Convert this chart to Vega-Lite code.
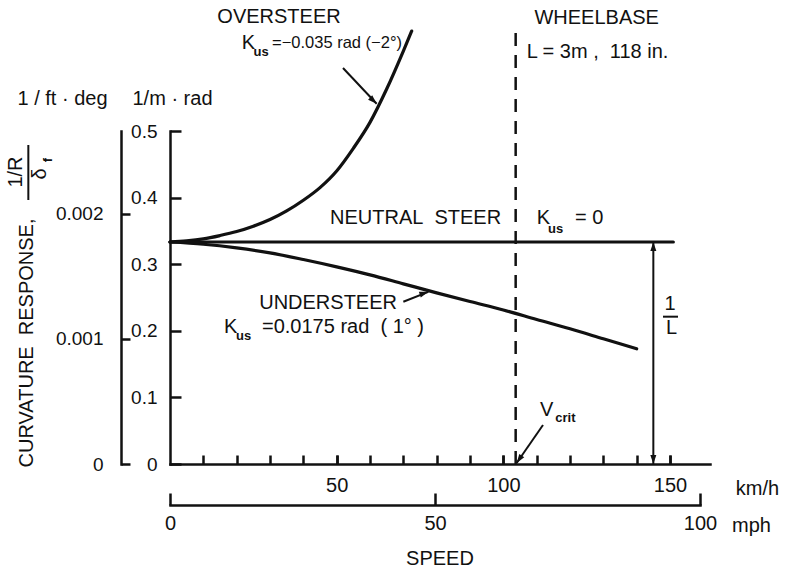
{
  "$schema": "https://vega.github.io/schema/vega-lite/v6.json",
  "width": 540,
  "height": 333,
  "autosize": {"type": "none"},
  "padding": {"left": 170, "top": 131, "right": 78, "bottom": 106},
  "background": "white",
  "title": {"text": "SPEED", "orient": "bottom", "anchor": "middle", "frame": "group", "font": "Liberation Sans", "fontSize": 20, "fontWeight": "normal", "color": "#111", "offset": 14},
  "datasets": {
    "curves": [
      {"series": "oversteer", "speed": 0, "curvature": 0.3333},
      {"series": "oversteer", "speed": 5, "curvature": 0.335},
      {"series": "oversteer", "speed": 10, "curvature": 0.338},
      {"series": "oversteer", "speed": 15, "curvature": 0.343},
      {"series": "oversteer", "speed": 20, "curvature": 0.349},
      {"series": "oversteer", "speed": 25, "curvature": 0.357},
      {"series": "oversteer", "speed": 30, "curvature": 0.367},
      {"series": "oversteer", "speed": 35, "curvature": 0.38},
      {"series": "oversteer", "speed": 40, "curvature": 0.396},
      {"series": "oversteer", "speed": 45, "curvature": 0.415},
      {"series": "oversteer", "speed": 50, "curvature": 0.44},
      {"series": "oversteer", "speed": 55, "curvature": 0.474},
      {"series": "oversteer", "speed": 60, "curvature": 0.513},
      {"series": "oversteer", "speed": 65, "curvature": 0.563},
      {"series": "oversteer", "speed": 70, "curvature": 0.62},
      {"series": "oversteer", "speed": 72.5, "curvature": 0.65},
      {"series": "understeer", "speed": 0, "curvature": 0.3333},
      {"series": "understeer", "speed": 10, "curvature": 0.33},
      {"series": "understeer", "speed": 20, "curvature": 0.3245},
      {"series": "understeer", "speed": 30, "curvature": 0.317},
      {"series": "understeer", "speed": 40, "curvature": 0.307},
      {"series": "understeer", "speed": 50, "curvature": 0.296},
      {"series": "understeer", "speed": 60, "curvature": 0.284},
      {"series": "understeer", "speed": 70, "curvature": 0.2705},
      {"series": "understeer", "speed": 80, "curvature": 0.257},
      {"series": "understeer", "speed": 90, "curvature": 0.244},
      {"series": "understeer", "speed": 100, "curvature": 0.2313},
      {"series": "understeer", "speed": 110, "curvature": 0.217},
      {"series": "understeer", "speed": 120, "curvature": 0.203},
      {"series": "understeer", "speed": 130, "curvature": 0.188},
      {"series": "understeer", "speed": 140, "curvature": 0.173},
      {"series": "neutral", "speed": 0, "curvature": 0.3333},
      {"series": "neutral", "speed": 151, "curvature": 0.3333}
    ],
    "vcrit": [{"speed": 103.7, "from": 0, "to": 0.65}],
    "inverseL": [{"speed": 145, "from": 0, "to": 0.3333}],
    "leaders": [
      {"name": "oversteer", "speed": 51.9, "curvature": 0.5946, "speed2": 62.0, "curvature2": 0.541},
      {"name": "understeer", "speed": 70.0, "curvature": 0.2437, "speed2": 77.5, "curvature2": 0.2585},
      {"name": "vcrit", "speed": 111.9, "curvature": 0.0586, "speed2": 104.0, "curvature2": 0.0015}
    ],
    "heads": [
      {"name": "oversteer", "speed": 62.0, "curvature": 0.541},
      {"name": "understeer", "speed": 77.5, "curvature": 0.2585},
      {"name": "vcrit", "speed": 104.0, "curvature": 0.0015},
      {"name": "Ltop", "speed": 145, "curvature": 0.3333},
      {"name": "Lbottom", "speed": 145, "curvature": 0}
    ],
    "bars": [
      {"speed": -42.5, "curvature": 0.3964, "speed2": -42.5, "curvature2": 0.479},
      {"speed": 147.9, "curvature": 0.2212, "speed2": 152.4, "curvature2": 0.2212}
    ],
    "labelsCenter": [
      {"text": "OVERSTEER", "speed": 32.7, "curvature": 0.6712},
      {"text": "WHEELBASE", "speed": 128.0, "curvature": 0.6692},
      {"text": "1", "speed": 150.0, "curvature": 0.2402},
      {"text": "L", "speed": 150.5, "curvature": 0.2042}
    ],
    "labelsLeft": [
      {"text": "L = 3m ,\u00a0\u00a0118 in.", "speed": 107.0, "curvature": 0.6191},
      {"text": "NEUTRAL\u00a0\u00a0STEER", "speed": 48.0, "curvature": 0.3689},
      {"text": "K", "speed": 110.0, "curvature": 0.3689},
      {"text": "= 0", "speed": 121.5, "curvature": 0.3689},
      {"text": "K", "speed": 16.2, "curvature": 0.2057},
      {"text": "=0.0175 rad\u00a0\u00a0( 1° )", "speed": 27.6, "curvature": 0.2057},
      {"text": "V", "speed": 111.0, "curvature": 0.0811},
      {"text": "K", "speed": 21.5, "curvature": 0.6321}
    ],
    "labelsRight": [
      {"text": "UNDERSTEER", "speed": 68.1, "curvature": 0.2417}
    ],
    "labelsSmall": [
      {"text": "=−0.035 rad (−2°)", "speed": 30.6, "curvature": 0.6321}
    ],
    "subscripts": [
      {"text": "us", "speed": 25.05, "curvature": 0.6186},
      {"text": "us", "speed": 113.4, "curvature": 0.3529},
      {"text": "us", "speed": 19.8, "curvature": 0.1922},
      {"text": "crit", "speed": 115.6, "curvature": 0.0691}
    ],
    "rotated": [
      {"text": "CURVATURE\u00a0\u00a0RESPONSE,", "speed": -42.9, "curvature": 0.1817},
      {"text": "1/R", "speed": -46.2, "curvature": 0.4384},
      {"text": "δ", "speed": -39.0, "curvature": 0.4354}
    ],
    "rotatedSub": [
      {"text": "f", "speed": -36.6, "curvature": 0.4565}
    ],
    "kmhTicks": [
      {"speed": 10}, {"speed": 20}, {"speed": 30}, {"speed": 40}, {"speed": 50},
      {"speed": 60}, {"speed": 70}, {"speed": 80}, {"speed": 90}, {"speed": 100},
      {"speed": 110}, {"speed": 120}, {"speed": 130}, {"speed": 140}, {"speed": 150}
    ],
    "ftdeg": [{"ftdeg": 0}, {"ftdeg": 0.001}, {"ftdeg": 0.002}],
    "mph": [{"mph": 0}, {"mph": 50}, {"mph": 100}]
  },
  "layer": [
    {
      "layer": [
        {
          "data": {"name": "curves"},
          "mark": {"type": "line", "interpolate": "monotone", "color": "#111", "strokeCap": "round"},
          "encoding": {
            "x": {
              "field": "speed", "type": "quantitative",
              "scale": {"domain": [0, 162], "nice": false, "zero": true},
              "axis": {
                "values": [50, 100, 150],
                "format": "d",
                "labelOverlap": false,
                "tickSize": -9,
                "labelPadding": 20,
                "title": "km/h",
                "titleX": 587, "titleY": 24, "titleAlign": "center", "titleBaseline": "middle", "titleAngle": 0
              }
            },
            "y": {
              "field": "curvature", "type": "quantitative",
              "scale": {"domain": [0, 0.5], "nice": false, "zero": true},
              "axis": {
                "values": [0, 0.1, 0.2, 0.3, 0.4, 0.5],
                "format": ".1~f",
                "labelOverlap": false,
                "tickSize": -11,
                "labelPadding": 24,
                "labelFontSize": 19,
                "title": "1/m · rad",
                "titleX": 2, "titleY": -33, "titleAlign": "center", "titleBaseline": "middle", "titleAngle": 0
              }
            },
            "detail": {"field": "series"},
            "strokeWidth": {"field": "series", "type": "nominal", "scale": {"domain": ["oversteer", "understeer", "neutral"], "range": [3.2, 3.2, 2]}, "legend": null}
          }
        },
        {
          "data": {"name": "vcrit"},
          "mark": {"type": "rule", "color": "#111", "strokeWidth": 2.5, "strokeDash": [13, 9]},
          "encoding": {
            "x": {"field": "speed", "type": "quantitative"},
            "y": {"field": "from", "type": "quantitative"},
            "y2": {"field": "to"}
          }
        },
        {
          "data": {"name": "inverseL"},
          "mark": {"type": "rule", "color": "#111", "strokeWidth": 2},
          "encoding": {
            "x": {"field": "speed", "type": "quantitative"},
            "y": {"field": "from", "type": "quantitative"},
            "y2": {"field": "to"}
          }
        },
        {
          "data": {"name": "leaders"},
          "mark": {"type": "rule", "color": "#111", "strokeWidth": 2},
          "encoding": {
            "x": {"field": "speed", "type": "quantitative"},
            "y": {"field": "curvature", "type": "quantitative"},
            "x2": {"field": "speed2"},
            "y2": {"field": "curvature2"}
          }
        },
        {
          "data": {"name": "bars"},
          "mark": {"type": "rule", "color": "#111", "strokeWidth": 2},
          "encoding": {
            "x": {"field": "speed", "type": "quantitative"},
            "y": {"field": "curvature", "type": "quantitative"},
            "x2": {"field": "speed2"},
            "y2": {"field": "curvature2"}
          }
        },
        {
          "data": {"name": "heads"},
          "transform": [{"filter": "datum.name === 'oversteer'"}],
          "mark": {"type": "point", "shape": "M0,0L-1,3L1,3Z", "size": 36, "filled": true, "color": "#111", "opacity": 1, "angle": 133.5},
          "encoding": {"x": {"field": "speed", "type": "quantitative"}, "y": {"field": "curvature", "type": "quantitative"}}
        },
        {
          "data": {"name": "heads"},
          "transform": [{"filter": "datum.name === 'understeer'"}],
          "mark": {"type": "point", "shape": "M0,0L-1,3L1,3Z", "size": 36, "filled": true, "color": "#111", "opacity": 1, "angle": 71.4},
          "encoding": {"x": {"field": "speed", "type": "quantitative"}, "y": {"field": "curvature", "type": "quantitative"}}
        },
        {
          "data": {"name": "heads"},
          "transform": [{"filter": "datum.name === 'vcrit'"}],
          "mark": {"type": "point", "shape": "M0,0L-1,3L1,3Z", "size": 36, "filled": true, "color": "#111", "opacity": 1, "angle": 214.5},
          "encoding": {"x": {"field": "speed", "type": "quantitative"}, "y": {"field": "curvature", "type": "quantitative"}}
        },
        {
          "data": {"name": "heads"},
          "transform": [{"filter": "datum.name === 'Ltop'"}],
          "mark": {"type": "point", "shape": "M0,0L-1,3L1,3Z", "size": 36, "filled": true, "color": "#111", "opacity": 1, "angle": 0},
          "encoding": {"x": {"field": "speed", "type": "quantitative"}, "y": {"field": "curvature", "type": "quantitative"}}
        },
        {
          "data": {"name": "heads"},
          "transform": [{"filter": "datum.name === 'Lbottom'"}],
          "mark": {"type": "point", "shape": "M0,0L-1,3L1,3Z", "size": 36, "filled": true, "color": "#111", "opacity": 1, "angle": 180},
          "encoding": {"x": {"field": "speed", "type": "quantitative"}, "y": {"field": "curvature", "type": "quantitative"}}
        },
        {
          "data": {"name": "labelsCenter"},
          "mark": {"type": "text", "font": "Liberation Sans", "fontSize": 20, "align": "center", "baseline": "middle", "color": "#111"},
          "encoding": {"x": {"field": "speed", "type": "quantitative"}, "y": {"field": "curvature", "type": "quantitative"}, "text": {"field": "text"}}
        },
        {
          "data": {"name": "labelsLeft"},
          "mark": {"type": "text", "font": "Liberation Sans", "fontSize": 20, "align": "left", "baseline": "middle", "color": "#111"},
          "encoding": {"x": {"field": "speed", "type": "quantitative"}, "y": {"field": "curvature", "type": "quantitative"}, "text": {"field": "text"}}
        },
        {
          "data": {"name": "labelsRight"},
          "mark": {"type": "text", "font": "Liberation Sans", "fontSize": 20, "align": "right", "baseline": "middle", "color": "#111"},
          "encoding": {"x": {"field": "speed", "type": "quantitative"}, "y": {"field": "curvature", "type": "quantitative"}, "text": {"field": "text"}}
        },
        {
          "data": {"name": "labelsSmall"},
          "mark": {"type": "text", "font": "Liberation Sans", "fontSize": 16.5, "align": "left", "baseline": "middle", "color": "#111"},
          "encoding": {"x": {"field": "speed", "type": "quantitative"}, "y": {"field": "curvature", "type": "quantitative"}, "text": {"field": "text"}}
        },
        {
          "data": {"name": "subscripts"},
          "mark": {"type": "text", "font": "Liberation Sans", "fontSize": 13, "fontWeight": "bold", "align": "left", "baseline": "middle", "color": "#111"},
          "encoding": {"x": {"field": "speed", "type": "quantitative"}, "y": {"field": "curvature", "type": "quantitative"}, "text": {"field": "text"}}
        },
        {
          "data": {"name": "rotated"},
          "mark": {"type": "text", "font": "Liberation Sans", "fontSize": 20, "align": "center", "baseline": "middle", "angle": 270, "color": "#111"},
          "encoding": {"x": {"field": "speed", "type": "quantitative"}, "y": {"field": "curvature", "type": "quantitative"}, "text": {"field": "text"}}
        },
        {
          "data": {"name": "rotatedSub"},
          "mark": {"type": "text", "font": "Liberation Sans", "fontSize": 13, "fontWeight": "bold", "align": "center", "baseline": "middle", "angle": 270, "color": "#111"},
          "encoding": {"x": {"field": "speed", "type": "quantitative"}, "y": {"field": "curvature", "type": "quantitative"}, "text": {"field": "text"}}
        }
      ]
    },
    {
      "data": {"name": "kmhTicks"},
      "mark": {"type": "point", "opacity": 0},
      "encoding": {
        "x": {
          "field": "speed", "type": "quantitative",
          "scale": {"domain": [0, 162], "nice": false, "zero": true},
          "axis": {
            "orient": "bottom",
            "values": [10, 20, 30, 40, 50, 60, 70, 80, 90, 100, 110, 120, 130, 140, 150],
            "labels": false,
            "domain": false,
            "tickSize": -9,
            "title": null
          }
        }
      }
    },
    {
      "data": {"name": "ftdeg"},
      "mark": {"type": "point", "opacity": 0},
      "encoding": {
        "y": {
          "field": "ftdeg", "type": "quantitative",
          "scale": {"domain": [0, 0.00266], "nice": false, "zero": true},
          "axis": {
            "orient": "left",
            "offset": 49,
            "values": [0, 0.001, 0.002],
            "format": ".3~f",
            "labelOverlap": false,
            "tickSize": -9,
            "labelPadding": 27,
            "labelFontSize": 19,
            "title": "1 / ft · deg",
            "titleX": -59, "titleY": -33, "titleAlign": "center", "titleBaseline": "middle", "titleAngle": 0
          }
        }
      }
    },
    {
      "data": {"name": "mph"},
      "mark": {"type": "point", "opacity": 0},
      "encoding": {
        "x": {
          "field": "mph", "type": "quantitative",
          "scale": {"domain": [0, 100], "range": [0, 530], "nice": false, "zero": true},
          "axis": {
            "orient": "bottom",
            "offset": 41,
            "values": [0, 50, 100],
            "format": "d",
            "labelOverlap": false,
            "tickSize": -12,
            "labelPadding": 20,
            "title": "mph",
            "titleX": 581, "titleY": 20, "titleAlign": "center", "titleBaseline": "middle", "titleAngle": 0
          }
        }
      }
    }
  ],
  "resolve": {"scale": {"x": "independent", "y": "independent"}},
  "config": {
    "font": "Liberation Sans",
    "view": {"stroke": null},
    "axis": {
      "grid": false,
      "domainColor": "#111",
      "domainWidth": 2.5,
      "domainCap": "square",
      "tickColor": "#111",
      "tickWidth": 2.5,
      "labelColor": "#111",
      "labelFont": "Liberation Sans",
      "labelFontSize": 20,
      "labelFlush": false,
      "labelOverlap": false,
      "titleFont": "Liberation Sans",
      "titleFontSize": 20,
      "titleFontWeight": "normal",
      "titleColor": "#111"
    }
  }
}
